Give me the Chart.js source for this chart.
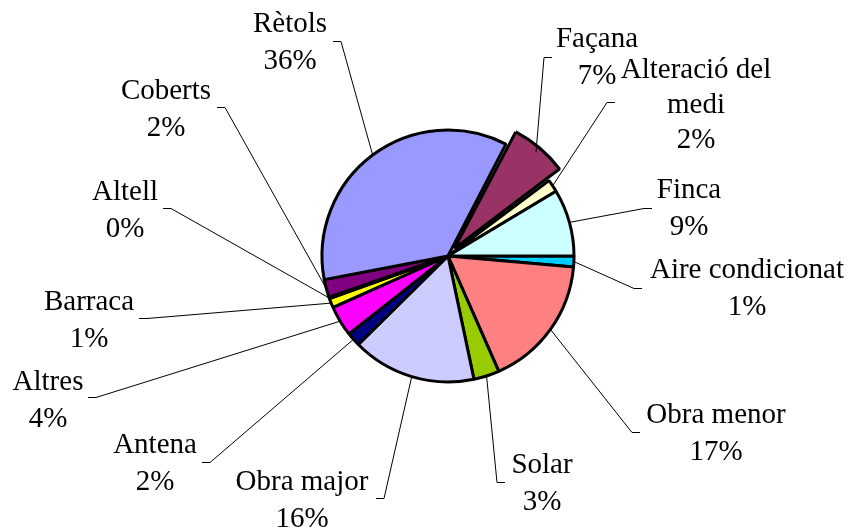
<!DOCTYPE html>
<html>
<head>
<meta charset="utf-8">
<script src="https://cdn.jsdelivr.net/npm/chart.js@4.4.1/dist/chart.umd.min.js"></script>
<style>
  html, body { margin: 0; padding: 0; background: #fff; }
  #wrap { width: 852px; height: 530px; }
</style>
</head>
<body>
<div id="wrap"><canvas id="pie" width="852" height="530"></canvas></div>
<script>
// Dades (ordre horari, començant a les 3 en punt)
const categories = ['Aire condicionat', 'Obra menor', 'Solar', 'Obra major', 'Antena', 'Altres',
    'Barraca', 'Altell', 'Coberts', 'Rètols', 'Façana', 'Alteració del medi', 'Finca'];
const values = [1.4, 17.0, 3.3, 15.9, 1.8, 3.9, 1.2, 0.2, 2.3, 35.6, 7.2, 1.6, 8.6];
const colors = ['#00CCFF', '#FF8080', '#99CC00', '#CCCCFF', '#000080', '#FF00FF',
    '#FFFF00', '#00FFFF', '#800080', '#9999FF', '#993366', '#FFFFCC', '#CCFFFF'];
// Chart.js v4 desplaça l'arc offset/4 píxels
const exploded = [0, 0, 0, 0, 0, 0, 0, 0, 0, 0, 40, 0, 0];

// Posició de les etiquetes: centre del text, primera línia, punt on comença la guia
const labelPos = [
    { x: 747, y: 268, ax: 642, ay: 288 },
    { x: 716, y: 413, ax: 640, ay: 432 },
    { x: 542, y: 463, ax: 505, ay: 482 },
    { x: 302, y: 480, ax: 376, ay: 498 },
    { x: 155, y: 443, ax: 202, ay: 462 },
    { x: 48,  y: 380, ax: 88,  ay: 397 },
    { x: 89,  y: 300, ax: 139, ay: 318 },
    { x: 125, y: 190, ax: 163, ay: 208 },
    { x: 166, y: 89,  ax: 217, ay: 107 },
    { x: 290, y: 22,  ax: 333, ay: 41 },
    { x: 597, y: 37,  ax: 552, ay: 57 },
    { x: 696, y: 68,  ax: 615, ay: 102, lh: 35 },
    { x: 689, y: 188, ax: 652, ay: 208 }
];

const FONT = '29px "Liberation Serif", "Times New Roman", serif';

function wrapText(ctx, text, maxW) {
    if (ctx.measureText(text).width <= maxW) return [text];
    const words = text.split(' ');
    const lines = [];
    let cur = '';
    words.forEach(w => {
        const test = cur ? cur + ' ' + w : w;
        if (cur && ctx.measureText(test).width > maxW) { lines.push(cur); cur = w; }
        else cur = test;
    });
    if (cur) lines.push(cur);
    return lines;
}

const leaderLabels = {
    id: 'leaderLabels',
    afterDatasetsDraw(chart) {
        const ctx = chart.ctx;
        const meta = chart.getDatasetMeta(0);
        const total = values.reduce((a, b) => a + b, 0);
        ctx.save();
        ctx.font = FONT;
        ctx.fillStyle = '#000';
        ctx.strokeStyle = '#000';
        ctx.lineWidth = 1;
        meta.data.forEach((arc, i) => {
            const p = arc.getProps(['x', 'y', 'startAngle', 'endAngle', 'outerRadius'], true);
            const mid = (p.startAngle + p.endAngle) / 2;
            const r = p.outerRadius + exploded[i] / 4;
            const ex = p.x + Math.cos(mid) * r;
            const ey = p.y + Math.sin(mid) * r;
            const lp = labelPos[i];
            const dir = lp.ax < ex ? 1 : -1;
            ctx.beginPath();
            ctx.moveTo(lp.ax, lp.ay + 0.5);
            ctx.lineTo(lp.ax + dir * 8, lp.ay + 0.5);
            ctx.lineTo(ex, ey);
            ctx.stroke();

            const pct = Math.round(values[i] / total * 100) + '%';
            const lines = wrapText(ctx, categories[i], 215).concat([pct]);
            const lh = lp.lh || 37;
            ctx.textAlign = 'center';
            ctx.textBaseline = 'alphabetic';
            lines.forEach((t, k) => ctx.fillText(t, lp.x, lp.y + 10 + k * lh));
        });
        ctx.restore();
    }
};

new Chart(document.getElementById('pie'), {
    type: 'pie',
    data: {
        labels: categories,
        datasets: [{
            data: values,
            backgroundColor: colors,
            borderColor: '#000',
            borderWidth: 3,
            offset: exploded,
            radius: 126
        }]
    },
    options: {
        responsive: false,
        animation: false,
        rotation: 90,
        layout: { padding: { left: 44, right: 0, top: 0, bottom: 18 } },
        plugins: { legend: { display: false }, tooltip: { enabled: false } }
    },
    plugins: [leaderLabels]
});
</script>
</body>
</html>
